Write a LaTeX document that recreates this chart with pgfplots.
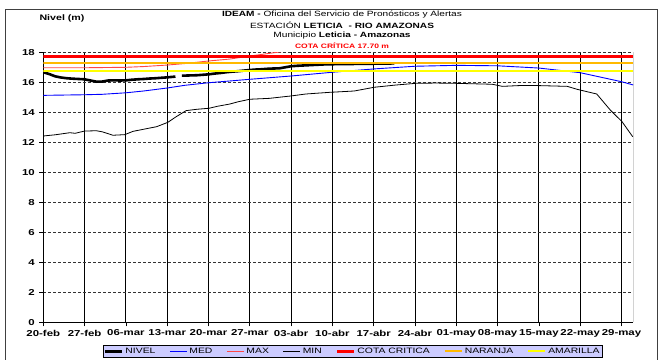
\documentclass[border=0pt]{standalone}
\usepackage{pgfplots}
\pgfplotsset{compat=1.18}
\usepackage{fontspec}
\setmainfont{Liberation Sans}[FakeStretch=1.33]
\definecolor{naranja}{RGB}{255,185,0}
\definecolor{amarilla}{RGB}{255,255,0}
\definecolor{legbg}{RGB}{204,204,255}
\definecolor{maxred}{RGB}{255,70,70}
\pgfplotstableread{
x y
0 16.67
1 16.55
2 16.40
3 16.32
4 16.27
5 16.24
6 16.22
7 16.20
8 16.12
9 16.04
10 16.05
11 16.12
12 16.13
13 16.12
14 16.13
15 16.17
16 16.20
17 16.22
18 16.25
19 16.27
20 16.30
21 16.33
22.4 16.38
23 nan
23.5 16.44
25 16.46
26 16.47
27 16.50
28 16.53
29 16.58
30 16.62
31 16.67
32 16.71
33 16.74
34 16.78
35 16.82
36 16.85
37 16.87
38 16.90
39 16.92
40 16.93
41 17.00
42 17.07
43 17.10
44 17.12
45 17.14
46 17.16
47 17.18
48 17.20
50 17.21
52 17.22
54 17.23
56 17.24
58 17.25
59.5 17.26
}\nivel
\pgfplotstableread{
x y
0 15.13
7 15.17
10 15.20
14 15.30
17 15.42
21 15.62
24 15.80
28 15.97
35 16.20
42 16.42
49 16.67
56 16.89
63 17.07
70 17.13
77 17.10
84 16.95
91 16.64
98 16.04
100 15.82
}\med
\pgfplotstableread{
x y
0 16.97
7 16.97
14 17.00
17 17.05
21 17.15
24 17.25
28 17.42
31.6 17.55
35 17.75
40 18.02
45 18.30
50 18.50
}\maxs
\pgfplotstableread{
x y
0 12.42
2 12.50
4.5 12.64
5.4 12.60
7 12.75
9 12.77
10 12.70
11.8 12.47
13.8 12.51
15.2 12.73
17 12.87
19.2 13.04
21.1 13.33
22.5 13.70
24.2 14.11
26 14.20
28.1 14.27
29.5 14.40
31.6 14.55
33 14.70
35 14.87
38.3 14.93
42 15.09
44.5 15.22
48.5 15.33
52.7 15.42
56.1 15.67
59.8 15.82
63.1 15.93
66.5 15.95
69.9 15.93
76.1 15.87
77.8 15.73
80.6 15.78
84 15.78
88.8 15.73
90.5 15.53
93.8 15.22
96.1 14.15
98.1 13.37
99.9 12.37
}\mins
\begin{document}
\begin{tikzpicture}[x=1pt,y=1pt]
\useasboundingbox (0,0) rectangle (660,359);
\draw[black!75, line width=0.8pt] (5,-2) -- (5,349.7) -- (657,349.7) -- (657,-2);
\node[font=\bfseries\fontsize{8}{10}\selectfont] at (62,340.5) {Nivel (m)};
\node[font=\fontsize{7.6}{10}\selectfont] at (342,344.5) {\textbf{IDEAM -} Oficina del Servicio de Pronósticos y Alertas};
\node[font=\fontsize{7.6}{10}\selectfont] at (342,334) {ESTACIÓN \textbf{LETICIA \ - RIO AMAZONAS}};
\node[font=\fontsize{7.6}{10}\selectfont] at (342,323.5) {Municipio \textbf{Leticia - Amazonas}};
\node[font=\bfseries\fontsize{6.4}{9}\selectfont, text=red] at (342,313.5) {COTA CRÍTICA 17.70 m};
\begin{axis}[
  at={(43.3pt,36.7pt)}, anchor=south west,
  scale only axis, width=590pt, height=270pt,
  xmin=0, xmax=100, ymin=0, ymax=18,
  axis lines*=left,
  axis line style={black, line width=0.8pt},
  xtick={0,7,...,98},
  xticklabels={20-feb,27-feb,06-mar,13-mar,20-mar,27-mar,03-abr,10-abr,17-abr,24-abr,01-may,08-may,15-may,22-may,29-may},
  ytick={0,2,...,18},
  /pgf/number format/assume math mode=true,
  tick align=outside, major tick length=4pt,
  tick style={black, line width=0.8pt},
  ticklabel style={font=\bfseries\fontsize{8.6}{10}\selectfont},
  yticklabel style={xshift=-1pt},
  xmajorgrids, x grid style={black, line width=0.9pt},
  ymajorgrids, y grid style={black!80, densely dashed, line width=0.6pt},
  clip=true,
  legend columns=7,
  legend style={at={(axis description cs:0.101,-0.084)}, anchor=north west,
    fill=legbg, draw=black, line width=0.6pt, font=\fontsize{7.8}{9}\selectfont,
    inner sep=0.6pt, /tikz/every even column/.append style={column sep=12pt}},
]
\addplot[black, line width=2.6pt, unbounded coords=jump] table {\nivel};
\addlegendentry{NIVEL}
\addplot[blue, line width=0.9pt] table {\med};
\addlegendentry{MED}
\addplot[maxred, line width=0.9pt] table {\maxs};
\addlegendentry{MAX}
\addplot[black, line width=0.8pt] table {\mins};
\addlegendentry{MIN}
\addplot[red, line width=2.6pt] coordinates {(0,17.7) (100,17.7)};
\addlegendentry{COTA CRITICA}
\addplot[naranja, line width=1.8pt] coordinates {(0,17.27) (100,17.27)};
\addlegendentry{NARANJA}
\addplot[amarilla, line width=2pt] coordinates {(0,16.77) (100,16.77)};
\addlegendentry{AMARILLA}
\draw[gray, line width=0.8pt] (rel axis cs:1,0) -- (rel axis cs:1,1);
\end{axis}
\end{tikzpicture}
\end{document}
